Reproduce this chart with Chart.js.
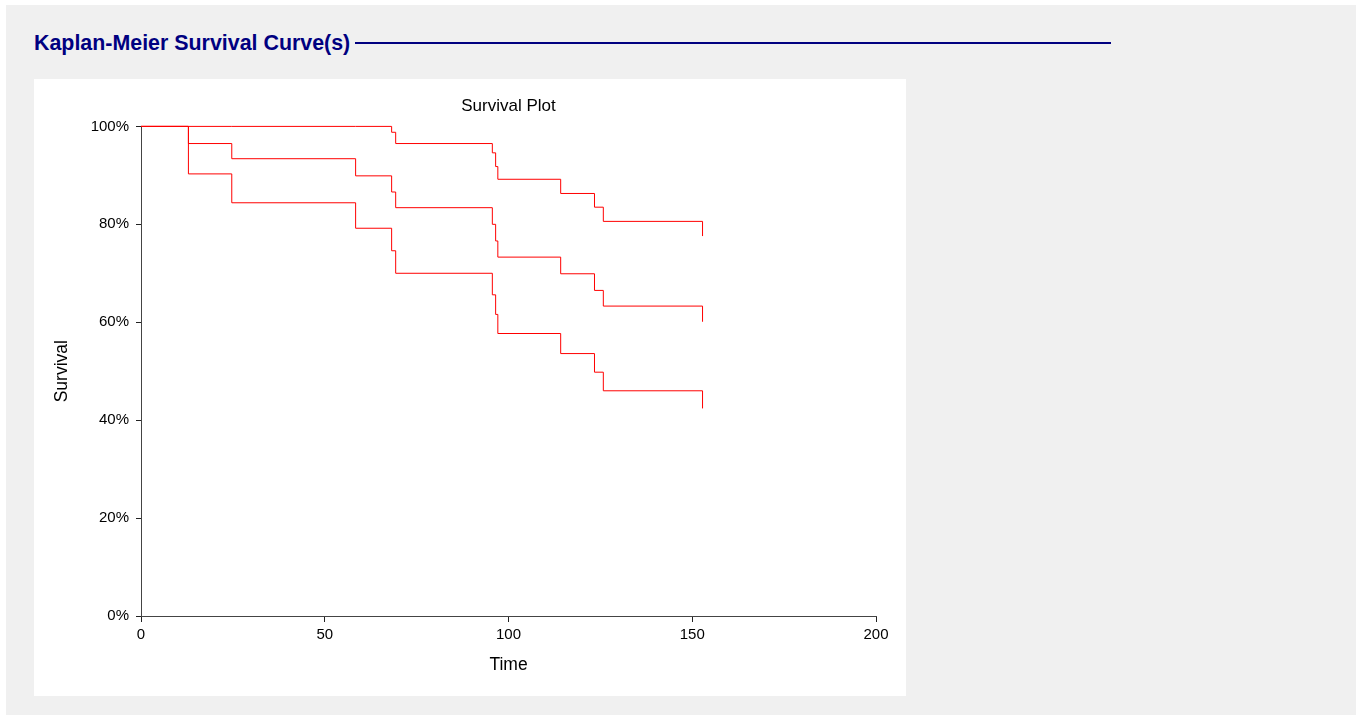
<!DOCTYPE html>
<html>
<head>
<meta charset="utf-8">
<script src="https://cdn.jsdelivr.net/npm/chart.js@4"></script>
<style>
  body { margin: 0; background: #fff; font-family: "Liberation Sans", Arial, sans-serif; }
  #panel { position: absolute; left: 6px; top: 5px; right: 0; bottom: 0; background: #f0f0f0; }
  #heading { position: absolute; left: 34px; top: 33px; font-size: 21.4px; line-height: 21px; font-weight: bold; color: #000080; white-space: nowrap; }
  #rule { position: absolute; left: 355px; top: 42px; width: 756px; height: 2px; background: #000080; }
  #box { position: absolute; left: 34px; top: 79px; width: 872px; height: 617px; background: #fff; }
</style>
</head>
<body>
<div id="panel"></div>
<div id="heading">Kaplan-Meier Survival Curve(s)</div>
<div id="rule"></div>
<div id="box"><canvas id="chart" width="872" height="617"></canvas></div>
<script>
const times = [0, 12.9, 24.7, 58.4, 68.2, 69.3, 95.6, 96.5, 97.1, 114.2, 123.4, 125.8, 152.8];
const survival = [100, 96.5, 93.4, 89.9, 86.6, 83.4, 80.0, 76.6, 73.3, 69.9, 66.5, 63.3, 60.1];
const upperCI = [100, 100, 100, 100, 98.8, 96.5, 94.6, 91.8, 89.2, 86.3, 83.5, 80.6, 77.6];
const lowerCI = [100, 90.3, 84.4, 79.2, 74.6, 70.0, 65.6, 61.6, 57.7, 53.6, 49.8, 46.0, 42.4];
const xTicks = [0, 50, 100, 150, 200];
const yTicks = [0, 20, 40, 60, 80, 100];

const font = '"Liberation Sans", Arial, sans-serif';

function toPoints(values) {
  return times.map((t, i) => ({ x: t, y: values[i] }));
}

function line(label, values) {
  return {
    label: label,
    data: toPoints(values),
    borderColor: '#ff0000',
    borderWidth: 1,
    pointRadius: 0,
    fill: false,
    clip: false,
    stepped: 'before',
  };
}

const config = {
  type: 'line',
  data: {
    datasets: [
      line('Upper', upperCI),
      line('Survival', survival),
      line('Lower', lowerCI),
    ],
  },
  options: {
    responsive: false,
    animation: false,
    layout: { padding: { left: 0, right: 30, top: 0, bottom: 0 } },
    plugins: {
      legend: { display: false },
      tooltip: { enabled: false },
      title: {
        display: true,
        text: 'Survival Plot',
        fullSize: false,
        color: '#000',
        font: { family: font, size: 17, weight: 'normal' },
        padding: { top: 17, bottom: 10 },
      },
    },
    scales: {
      x: {
        type: 'linear',
        min: 0,
        max: 200,
        afterBuildTicks: (scale) => { scale.ticks = xTicks.map((v) => ({ value: v })); },
        afterFit: (scale) => { scale.height = 80; },
        ticks: {
          color: '#000',
          font: { family: font, size: 15 },
          padding: 4,
          maxRotation: 0,
        },
        grid: { drawOnChartArea: false, drawTicks: true, tickLength: 6, tickColor: '#222' },
        border: { color: '#444', width: 1, z: 1 },
        title: {
          display: true,
          text: 'Time',
          color: '#000',
          font: { family: font, size: 17.5 },
          padding: { top: 0, bottom: 20 },
        },
      },
      y: {
        min: 0,
        max: 100,
        afterBuildTicks: (scale) => { scale.ticks = yTicks.map((v) => ({ value: v })); },
        afterFit: (scale) => { scale.width = 107; },
        ticks: {
          color: '#000',
          font: { family: font, size: 15 },
          padding: 7,
          callback: (v) => v + '%',
        },
        grid: { drawOnChartArea: false, drawTicks: true, tickLength: 5, tickColor: '#222' },
        border: { color: '#444', width: 1 },
        title: {
          display: true,
          text: 'Survival',
          color: '#000',
          font: { family: font, size: 17.5 },
          padding: { top: 18, bottom: 0 },
        },
      },
    },
  },
};

new Chart(document.getElementById('chart'), config);
</script>
</body>
</html>
